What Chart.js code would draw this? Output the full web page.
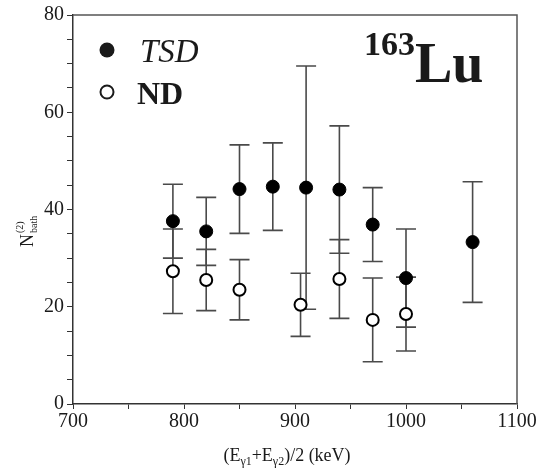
<!DOCTYPE html>
<html>
<head>
<meta charset="utf-8">
<script src="https://cdn.jsdelivr.net/npm/chart.js@4.4.1/dist/chart.umd.min.js"></script>
<style>
    html, body { margin: 0; padding: 0; background: #ffffff; }
    #bathChart { display: block; }
</style>
</head>
<body>
<canvas id="bathChart" width="548" height="470"></canvas>
<script>
// TSD (filled) and ND (open) points, symmetric errors
const tsdEnergy = [790, 820, 850, 880, 910, 940, 970, 1000, 1060];
const tsdValue = [37.6, 35.5, 44.2, 44.7, 44.5, 44.1, 36.9, 25.9, 33.3];
const tsdError = [7.6, 7.0, 9.1, 9.0, 25.0, 13.1, 7.6, 10.1, 12.4];

const ndEnergy = [790, 820, 850, 905, 940, 970, 1000];
const ndValue = [27.3, 25.5, 23.5, 20.4, 25.7, 17.3, 18.5];
const ndError = [8.7, 6.3, 6.2, 6.5, 8.1, 8.6, 7.6];

const legendLabels = ["TSD", "ND"];
const nucleusMass = "163";
const nucleusName = "Lu";

const SERIF = "'Liberation Serif', 'DejaVu Serif', serif";
const INK = "#1a1a1a";

function toPoints(xs, ys) {
    return xs.map((x, i) => ({ x: x, y: ys[i] }));
}

const errorBarPlugin = {
    id: "errorBars",
    beforeDatasetsDraw(chart) {
        const ctx = chart.ctx;
        const xScale = chart.scales.x;
        const yScale = chart.scales.y;
        const sets = [
            { xs: tsdEnergy, ys: tsdValue, errs: tsdError },
            { xs: ndEnergy, ys: ndValue, errs: ndError }
        ];
        ctx.save();
        ctx.strokeStyle = "#4a4a4a";
        ctx.lineWidth = 1.6;
        sets.forEach(set => {
            set.xs.forEach((x, i) => {
                const px = xScale.getPixelForValue(x);
                const top = yScale.getPixelForValue(set.ys[i] + set.errs[i]);
                const bottom = yScale.getPixelForValue(set.ys[i] - set.errs[i]);
                ctx.beginPath();
                ctx.moveTo(px, top);
                ctx.lineTo(px, bottom);
                ctx.moveTo(px - 10, top);
                ctx.lineTo(px + 10, top);
                ctx.moveTo(px - 10, bottom);
                ctx.lineTo(px + 10, bottom);
                ctx.stroke();
            });
        });
        ctx.restore();
    }
};

const decorPlugin = {
    id: "decor",
    afterDraw(chart) {
        const ctx = chart.ctx;
        const area = chart.chartArea;
        ctx.save();

        // frame on top and right
        ctx.strokeStyle = "#555555";
        ctx.lineWidth = 1.5;
        ctx.beginPath();
        ctx.moveTo(area.left, area.top);
        ctx.lineTo(area.right, area.top);
        ctx.lineTo(area.right, area.bottom);
        ctx.stroke();

        ctx.fillStyle = INK;
        ctx.textAlign = "left";
        ctx.textBaseline = "alphabetic";

        // legend
        ctx.beginPath();
        ctx.arc(107, 50, 7.5, 0, Math.PI * 2);
        ctx.fill();
        ctx.beginPath();
        ctx.arc(107, 92, 6.5, 0, Math.PI * 2);
        ctx.lineWidth = 2;
        ctx.strokeStyle = INK;
        ctx.stroke();
        ctx.font = "italic 33px " + SERIF;
        ctx.fillText(legendLabels[0], 140, 62);
        ctx.font = "bold 32px " + SERIF;
        ctx.fillText(legendLabels[1], 137, 104);

        // nucleus label
        ctx.font = "bold 34px " + SERIF;
        ctx.fillText(nucleusMass, 364, 55);
        const wMass = ctx.measureText(nucleusMass).width;
        ctx.font = "bold 56px " + SERIF;
        ctx.fillText(nucleusName, 364 + wMass, 82);

        // x axis title
        const parts = [
            { t: "(E", sub: false }, { t: "\u03b31", sub: true },
            { t: "+E", sub: false }, { t: "\u03b32", sub: true },
            { t: ")/2 (keV)", sub: false }
        ];
        const mainFont = "18px " + SERIF;
        const subFont = "12px " + SERIF;
        let total = 0;
        parts.forEach(p => {
            ctx.font = p.sub ? subFont : mainFont;
            p.w = ctx.measureText(p.t).width;
            total += p.w;
        });
        let cx = (area.left + area.right) / 2 - 8 - total / 2;
        parts.forEach(p => {
            ctx.font = p.sub ? subFont : mainFont;
            ctx.fillText(p.t, cx, p.sub ? 465 : 461);
            cx += p.w;
        });

        // y axis title
        ctx.translate(33, 247);
        ctx.rotate(-Math.PI / 2);
        ctx.font = "18px " + SERIF;
        ctx.fillText("N", 0, 0);
        const wN = ctx.measureText("N").width;
        ctx.font = "10px " + SERIF;
        ctx.fillText("(2)", wN + 1, -10);
        ctx.fillText("bath", wN + 1, 4);

        ctx.restore();
    }
};

new Chart(document.getElementById("bathChart"), {
    type: "scatter",
    data: {
        datasets: [
            {
                label: legendLabels[0],
                data: toPoints(tsdEnergy, tsdValue),
                pointRadius: 6.5,
                pointBackgroundColor: "#000000",
                pointBorderColor: "#000000",
                pointBorderWidth: 1
            },
            {
                label: legendLabels[1],
                data: toPoints(ndEnergy, ndValue),
                pointRadius: 6,
                pointBackgroundColor: "#ffffff",
                pointBorderColor: "#000000",
                pointBorderWidth: 2
            }
        ]
    },
    options: {
        responsive: false,
        animation: false,
        layout: { padding: { top: 10, right: 31, left: 0, bottom: 0 } },
        plugins: {
            legend: { display: false },
            tooltip: { enabled: false }
        },
        scales: {
            x: {
                type: "linear",
                min: 700,
                max: 1100,
                afterFit(scale) { scale.height = 66; },
                border: { display: true, color: "#333333", width: 1.5 },
                grid: { drawOnChartArea: false, drawTicks: true, tickLength: 5, color: "#333333" },
                ticks: {
                    stepSize: 50,
                    autoSkip: false,
                    maxRotation: 0,
                    padding: 1,
                    color: INK,
                    font: { family: SERIF, size: 20 },
                    callback: v => (v % 100 === 0 ? v : "")
                }
            },
            y: {
                type: "linear",
                min: 0,
                max: 80,
                afterFit(scale) { scale.width = 73; },
                border: { display: true, color: "#333333", width: 1.5 },
                grid: { drawOnChartArea: false, drawTicks: true, tickLength: 6, color: "#333333" },
                ticks: {
                    stepSize: 5,
                    autoSkip: false,
                    padding: 3,
                    color: INK,
                    font: { family: SERIF, size: 20 },
                    callback: v => (v % 20 === 0 ? v : "")
                }
            }
        }
    },
    plugins: [errorBarPlugin, decorPlugin]
});
</script>
</body>
</html>
